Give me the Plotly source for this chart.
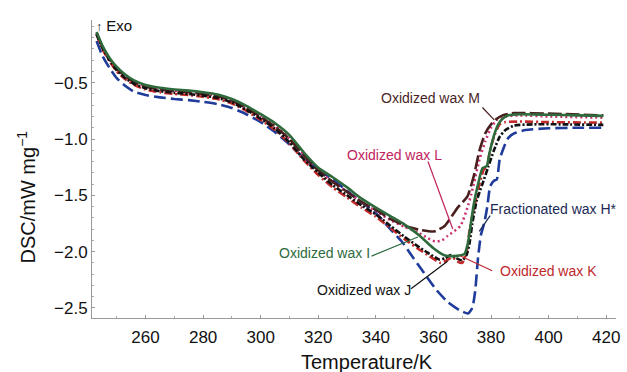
import plotly.graph_objects as go

# ---------------- data ----------------
T_H = [243, 245, 247.5, 250, 253, 256, 260, 265, 270, 275, 280, 285, 290, 295, 300, 305, 310, 315, 320,
       325, 330, 335, 340, 345, 349, 352, 357, 361, 365, 369, 372, 373.5, 374.5, 375.5, 376.5, 377.7, 378.7,
       379.7, 381, 382, 383, 384.5, 386, 388, 392, 400, 410, 419]
Y_H = [-0.13, -0.26, -0.37, -0.46, -0.53, -0.58, -0.61, -0.63, -0.645, -0.655, -0.67, -0.69, -0.725, -0.78,
       -0.85, -0.94, -1.05, -1.17, -1.27, -1.36, -1.46, -1.56, -1.66, -1.80, -1.91, -2.02, -2.20, -2.34,
       -2.45, -2.52, -2.55, -2.50, -2.35, -2.05, -1.85, -1.74, -1.60, -1.42, -1.37, -1.36, -1.18, -1.07,
       -0.99, -0.95, -0.92, -0.905, -0.90, -0.90]

T_I = [243, 245, 247.5, 250, 253, 256, 260, 265, 270, 275, 280, 285, 290, 295, 300, 305, 310, 315,
       320, 325, 330, 335, 340, 345, 350, 355, 360, 364, 367, 369, 370.8, 372, 373, 374, 375.5, 377,
       378.5, 379.5, 381, 382.5, 384, 386, 390, 400, 410, 419]
Y_I = [-0.05, -0.17, -0.28, -0.36, -0.43, -0.48, -0.52, -0.545, -0.56, -0.57, -0.585, -0.605, -0.645, -0.705,
       -0.78, -0.86, -0.965, -1.12, -1.255, -1.34, -1.43, -1.53, -1.61, -1.685, -1.76, -1.855, -1.97,
       -2.035, -2.04, -2.035, -2.02, -1.92, -1.75, -1.58, -1.40, -1.26, -1.24, -1.12, -0.97, -0.87, -0.82,
       -0.79, -0.78, -0.785, -0.79, -0.795]

T_J = [243, 245, 247.5, 250, 253, 256, 260, 265, 270, 275, 280, 285, 290, 295, 300, 305, 310, 315,
       320, 325, 330, 335, 340, 345, 350, 355, 358, 362, 364, 366, 368, 370, 371.5, 372.5, 373.5, 375,
       377, 379, 381, 383, 385, 388, 395, 405, 419]
Y_J = [-0.07, -0.19, -0.30, -0.39, -0.46, -0.51, -0.55, -0.575, -0.59, -0.60, -0.615, -0.635, -0.675, -0.74,
       -0.82, -0.91, -1.03, -1.18, -1.30, -1.41, -1.50, -1.59, -1.67, -1.77, -1.87, -1.96, -2.01, -2.07,
       -2.06, -2.03, -2.06, -2.08, -2.03, -1.93, -1.75, -1.55, -1.40, -1.25, -1.10, -0.98, -0.92, -0.88,
       -0.87, -0.87, -0.875]

T_K = [243, 245, 247.5, 250, 253, 256, 260, 265, 270, 275, 280, 285, 290, 295, 300, 305, 310, 315,
       320, 325, 330, 335, 340, 345, 350, 355, 358, 362.5, 364.5, 366.5, 368.5, 370, 371.5, 372.5, 374,
       376, 377.5, 378.5, 379.5, 381, 383, 385, 390, 400, 419]
Y_K = [-0.07, -0.20, -0.31, -0.40, -0.47, -0.52, -0.56, -0.585, -0.60, -0.61, -0.625, -0.645, -0.685, -0.75,
       -0.83, -0.92, -1.04, -1.19, -1.32, -1.43, -1.52, -1.61, -1.69, -1.79, -1.89, -1.98, -2.03, -2.10,
       -2.08, -2.05, -2.09, -2.10, -2.00, -1.82, -1.62, -1.40, -1.27, -1.25, -1.12, -0.98, -0.87, -0.85,
       -0.845, -0.85, -0.855]

T_L = [243, 245, 247.5, 250, 253, 256, 260, 265, 270, 275, 280, 285, 290, 295, 300, 305, 310, 315,
       320, 325, 330, 335, 340, 345, 350, 354.6, 358, 360.5, 363, 365, 369.4, 371.8, 373, 374, 376, 378,
       380, 382, 385, 390, 400, 419]
Y_L = [-0.06, -0.18, -0.29, -0.37, -0.44, -0.49, -0.53, -0.555, -0.57, -0.58, -0.595, -0.615, -0.655, -0.72,
       -0.80, -0.885, -0.995, -1.14, -1.28, -1.38, -1.47, -1.56, -1.64, -1.72, -1.78, -1.83, -1.88, -1.91,
       -1.90, -1.86, -1.77, -1.61, -1.50, -1.40, -1.18, -1.02, -0.90, -0.83, -0.80, -0.79, -0.80, -0.81]

T_M = [243, 245, 247.5, 250, 253, 256, 260, 265, 270, 275, 280, 285, 290, 295, 300, 305, 310, 315,
       320, 325, 330, 335, 340, 345, 351, 356, 360.5, 364, 368.4, 371.8, 374, 376, 378, 380, 382, 384,
       388, 400, 419]
Y_M = [-0.06, -0.18, -0.29, -0.375, -0.445, -0.495, -0.535, -0.56, -0.575, -0.585, -0.60, -0.62, -0.66,
       -0.725, -0.805, -0.89, -1.0, -1.145, -1.28, -1.38, -1.47, -1.56, -1.63, -1.71, -1.78, -1.81, -1.82,
       -1.77, -1.61, -1.51, -1.33, -1.10, -0.95, -0.87, -0.82, -0.79, -0.77, -0.775, -0.79]

SERIES = [
    ("Fractionated wax H*", T_H, Y_H, "#1f3c9a", "12px,5px"),
    ("Oxidized wax L", T_L, Y_L, "#c8306e", "2px,3px"),
    ("Oxidized wax M", T_M, Y_M, "#4a1f1f", "14px,4px"),
    ("Oxidized wax K", T_K, Y_K, "#c42a2a", "8px,3px,2px,3px"),
    ("Oxidized wax J", T_J, Y_J, "#111111", "6px,2px,2px,2px"),
    ("Oxidized wax I", T_I, Y_I, "#2e6a3c", "solid"),
]

# label text, text position (T, y), leader line start/end (T, y), colour
LABELS = [
    ("Oxidized wax M", 359.1, -0.64, (377.0, -0.72), (381.1, -0.83), "#4a1f1f"),
    ("Oxidized wax L", 346.4, -1.145, (358.1, -1.20), (366.7, -1.80), "#c0245e"),
    ("Fractionated wax H*", 401.8, -1.62, (379.7, -1.68), (375.9, -1.82), "#1c2a55"),
    ("Oxidized wax I", 322.0, -2.01, (338.5, -2.04), (354.6, -1.87), "#2d6a3e"),
    ("Oxidized wax J", 335.7, -2.34, (352.2, -2.33), (364.9, -2.085), "#111111"),
    ("Oxidized wax K", 400.0, -2.17, (380.4, -2.17), (369.4, -2.04), "#c0282e"),
]

X_TICKS = [260, 280, 300, 320, 340, 360, 380, 400, 420]
Y_TICKS = [-0.5, -1.0, -1.5, -2.0, -2.5]
Y_TICKTEXT = ["−0.5", "−1.0", "−1.5", "−2.0", "−2.5"]

FONT = "Liberation Sans, Arial, Helvetica, sans-serif"

W, H = 627, 372
L, R, TOP, B = 92, 7, 20, 54

fig = go.Figure()
for name, t, y, col, dash in SERIES:
    fig.add_trace(go.Scatter(x=t, y=y, mode="lines", name=name,
                             line=dict(color=col, width=2.6, dash=dash, shape="spline", smoothing=0.5)))

for txt, tx, ty, p0, p1, col in LABELS:
    fig.add_annotation(x=tx, y=ty, text=txt, showarrow=False, xref="x", yref="y",
                       xanchor="center", yanchor="middle",
                       font=dict(family=FONT, size=14, color=col))
    fig.add_shape(type="line", x0=p0[0], y0=p0[1], x1=p1[0], y1=p1[1], xref="x", yref="y",
                  line=dict(color=col, width=1.2))


def paper_x(px):
    return (px - L) / (W - L - R)


def paper_y(py):
    return 1 - (py - TOP) / (H - TOP - B)


# axis titles and the Exo marker (placed by pixel position)
fig.add_annotation(x=paper_x(369), y=paper_y(362), xref="paper", yref="paper", text="Temperature/K",
                   showarrow=False, xanchor="center", yanchor="middle",
                   font=dict(family=FONT, size=20, color="#111"))
fig.add_annotation(x=paper_x(25), y=paper_y(197), xref="paper", yref="paper", text="DSC/mW mg<sup>−1</sup>",
                   showarrow=False, textangle=-90, xanchor="center", yanchor="middle",
                   font=dict(family=FONT, size=20, color="#111"))
fig.add_annotation(x=paper_x(94), y=paper_y(25), xref="paper", yref="paper",
                   text="<span style='font-size:12px'>↑</span> Exo", showarrow=False,
                   xanchor="left", yanchor="middle", font=dict(family=FONT, size=15, color="#111"))

fig.update_layout(
    width=W, height=H,
    margin=dict(l=L, r=R, t=TOP, b=B),
    paper_bgcolor="white", plot_bgcolor="white",
    showlegend=False,
    font=dict(family=FONT, color="#111"),
    xaxis=dict(range=[241.4, 423.4], tickvals=X_TICKS, ticks="inside", ticklen=3, tickcolor="#999",
               showline=True, linecolor="#999", linewidth=1, showgrid=False, zeroline=False,
               ticklabelstandoff=4,
               tickfont=dict(size=17, family=FONT, color="#111"),
               minor=dict(dtick=10, ticks="inside", ticklen=2, tickcolor="#aaa")),
    yaxis=dict(range=[-2.59, 0.057], tickvals=Y_TICKS, ticktext=Y_TICKTEXT,
               ticks="inside", ticklen=3, tickcolor="#999",
               showline=True, linecolor="#999", linewidth=1, showgrid=False, zeroline=False,
               tickfont=dict(size=17, family=FONT, color="#111"),
               minor=dict(dtick=0.1, ticks="inside", ticklen=2, tickcolor="#aaa")),
)

fig.write_html("out.html")
